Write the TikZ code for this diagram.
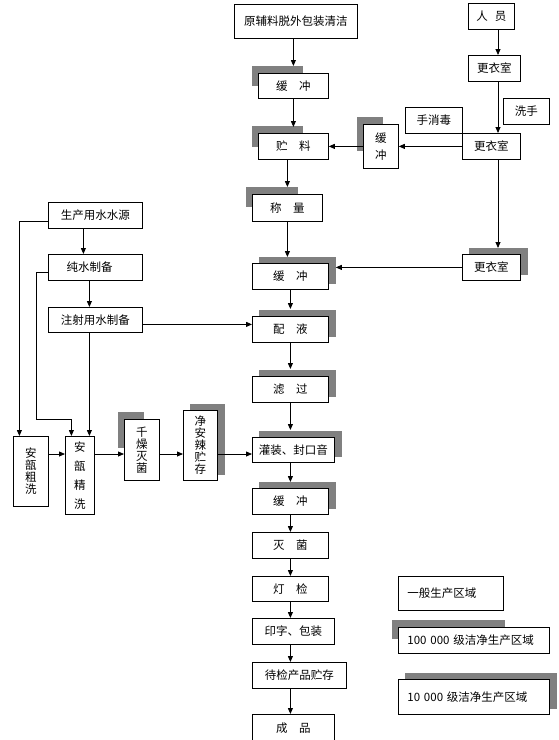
\documentclass[tikz,border=0pt]{standalone}
\usepackage{fontspec}
\newfontfamily\cjkfont{Noto Sans CJK SC}
\usepackage{tikz}
\usetikzlibrary{arrows.meta, positioning, backgrounds}
\definecolor{shadegray}{RGB}{128, 128, 128}
\newcommand{\shadeA}[3]{\fill[shadegray] ([shift={(-6,-7)}]#1.north west) rectangle ([shift={(#2,#3)}]#1.north west);}
\newcommand{\shadeB}[1]{\fill[shadegray] ([shift={(7,-6)}]#1.north west) rectangle ([shift={(7,-6)}]#1.south east);}

\begin{document}
\begin{tikzpicture}[x=1pt, y=-1pt,
  flowbox/.style={draw, fill=white, line width=0.8pt, inner sep=0pt, anchor=north west, align=center,
    font=\cjkfont\fontsize{11.5}{12}\selectfont},
  flow/.style={line width=0.8pt, -{Triangle[length=6pt, width=5pt]}},
  plain/.style={line width=0.8pt}]
  \clip (0,0) rectangle (559,740);

  % main column
  \node[flowbox, minimum width=123pt, minimum height=34pt] (yuanfu) at (234,4) {原辅料脱外包装清洁};
  \node[flowbox, minimum width=70pt, minimum height=25pt] (huanchong1) at (258,73) {缓\hspace{1em}冲};
  \node[flowbox, minimum width=70pt, minimum height=26pt] (zhuliao) at (258,133) {贮\hspace{1em}料};
  \node[flowbox, minimum width=70pt, minimum height=27pt] (chengliang) at (252,194) {称\hspace{1em}量};
  \node[flowbox, minimum width=76pt, minimum height=26pt] (huanchong2) at (252,263) {缓\hspace{1em}冲};
  \node[flowbox, minimum width=76pt, minimum height=26pt] (peiye) at (252,316) {配\hspace{1em}液};
  \node[flowbox, minimum width=76pt, minimum height=26pt] (lvguo) at (252,376) {滤\hspace{1em}过};
  \node[flowbox, minimum width=82pt, minimum height=25pt] (guanzhuang) at (252,437) {灌装、封口音};
  \node[flowbox, minimum width=76pt, minimum height=26pt] (huanchong3) at (252,488) {缓\hspace{1em}冲};
  \node[flowbox, minimum width=76pt, minimum height=26pt] (miejun) at (252,532) {灭\hspace{1em}菌};
  \node[flowbox, minimum width=76pt, minimum height=25pt] (dengjian) at (252,576) {灯\hspace{1em}检};
  \node[flowbox, minimum width=82pt, minimum height=26pt] (yinzi) at (252,618) {印字、包装};
  \node[flowbox, minimum width=94pt, minimum height=26pt] (daijian) at (252,662) {待检产品贮存};
  \node[flowbox, minimum width=82pt, minimum height=28pt] (chengpin) at (252,714) {成\hspace{1em}品};

  % personnel
  \node[flowbox, minimum width=46pt, minimum height=26pt] (renyuan) at (468,3) {人\hspace{0.6em}员};
  \node[flowbox, minimum width=52pt, minimum height=26pt] (gengyi1) at (468,55) {更衣室};
  \node[flowbox, minimum width=46pt, minimum height=26pt] (xishou) at (503,98) {洗手};
  \node[flowbox, minimum width=57pt, minimum height=26pt] (xiaodu) at (405,107) {手消毒};
  \node[flowbox, minimum width=58pt, minimum height=26pt] (gengyi2) at (462,133) {更衣室};
  \node[flowbox, minimum width=35pt, minimum height=44pt] (huanchongv) at (363,124) {缓\\[5pt]冲};
  \node[flowbox, minimum width=58pt, minimum height=26pt] (gengyi3) at (462,254) {更衣室};

  % water and ampoules
  \node[flowbox, minimum width=94pt, minimum height=26pt] (shuiyuan) at (48,202) {生产用水水源};
  \node[flowbox, minimum width=94pt, minimum height=26pt] (chunshui) at (48,254) {纯水制备\hspace{1em}};
  \node[flowbox, minimum width=94pt, minimum height=25pt] (zhushe) at (48,307) {注射用水制备};
  \node[flowbox, minimum width=35pt, minimum height=70pt] (cuxi) at (13,436) {安\\瓿\\粗\\洗};
  \node[flowbox, minimum width=29pt, minimum height=78pt] (jingxi) at (65,436) {安\\[7pt]瓿\\[7pt]精\\[7pt]洗};
  \node[flowbox, minimum width=35pt, minimum height=61pt] (ganzao) at (124,419) {千\\燥\\灭\\菌};
  \node[flowbox, minimum width=34pt, minimum height=70pt] (jingan) at (183,410) {净\\安\\辣\\贮\\存};

  % legend
  \node[flowbox, minimum height=34pt, text width=87pt, inner xsep=9pt, align=left] (leg1) at (398,576) {一般生产区域};
  \node[flowbox, minimum height=26pt, text width=133pt, inner xsep=9pt, align=left] (leg2) at (398,627) {100 000 级洁净生产区域};
  \node[flowbox, minimum height=35pt, text width=133pt, inner xsep=9pt, align=left] (leg3) at (398,679) {10 000 级洁净生产区域};

  \begin{scope}[on background layer]
    \shadeA{huanchong1}{45}{13}
    \shadeA{zhuliao}{45}{14}
    \shadeA{chengliang}{46}{13}
    \shadeA{huanchongv}{20}{27}
    \shadeA{ganzao}{20}{29}
    \shadeA{leg2}{107}{12}
    \shadeB{huanchong2}
    \shadeB{peiye}
    \shadeB{lvguo}
    \shadeB{guanzhuang}
    \shadeB{huanchong3}
    \shadeB{gengyi3}
    \shadeB{jingan}
    \shadeB{leg3}
  \end{scope}

  \coordinate (rightcol) at (498,0);
  \coordinate (midrow) at (0,454);
  \coordinate (bend) at (36,419);

  % main column
  \draw[flow, shorten >=7pt] (yuanfu.south -| huanchong1.north) -- (huanchong1.north);
  \draw[flow, shorten >=6pt] (huanchong1.south) -- (zhuliao.north);
  \draw[flow, shorten >=7pt] (zhuliao.south -| chengliang.north) -- (chengliang.north);
  \draw[flow, shorten >=6pt] (chengliang.south) -- (chengliang.south |- huanchong2.north);
  \draw[flow, shorten >=7pt] (huanchong2.south) -- (peiye.north);
  \draw[flow, shorten >=7pt] (peiye.south) -- (lvguo.north);
  \draw[flow, shorten >=7pt] (lvguo.south) -- (lvguo.south |- guanzhuang.north);
  \draw[flow, shorten >=6pt] (huanchong3.north |- guanzhuang.south) -- (huanchong3.north);
  \draw[flow] (huanchong3.south) -- (miejun.north);
  \draw[flow] (miejun.south) -- (dengjian.north);
  \draw[flow] (dengjian.south) -- (dengjian.south |- yinzi.north);
  \draw[flow] (yinzi.south -| miejun.south) -- (daijian.north -| miejun.south);
  \draw[flow] (daijian.south -| miejun.south) -- (chengpin.north -| miejun.south);

  % personnel
  \draw[flow] (renyuan.south -| rightcol) -- (gengyi1.north -| rightcol);
  \draw[flow] (gengyi1.south -| rightcol) -- (gengyi2.north -| rightcol);
  \draw[flow, shorten >=6pt] (gengyi2.south -| rightcol) -- (gengyi3.north -| rightcol);
  \draw[flow] (gengyi2.west) -- (huanchongv.east |- gengyi2.west);
  \draw[flow] (huanchongv.west |- gengyi2.west) -- (zhuliao.east |- gengyi2.west);
  \draw[flow, shorten >=7pt] (gengyi3.west) -- (huanchong2.east |- gengyi3.west);

  % water
  \draw[flow] ([xshift=-12pt]shuiyuan.south) -- ([xshift=-12pt]chunshui.north);
  \draw[flow] ([xshift=-6pt]chunshui.south) -- ([xshift=-6pt]zhushe.north);
  \draw[flow] ([xshift=-6pt]zhushe.south) -- ([xshift=-6pt]zhushe.south |- jingxi.north);
  \draw[flow] ([yshift=-6pt]shuiyuan.west) -| ([xshift=-11.5pt]cuxi.north);
  \draw[flow] ([yshift=-5pt]chunshui.west) -| (bend) -| ([xshift=-8.5pt]jingxi.north);
  \draw[flow] ([yshift=-4.5pt]zhushe.east) -- ([yshift=-4.5pt]zhushe.east -| peiye.west);

  % ampoule row
  \draw[flow] (cuxi.east |- midrow) -- (jingxi.west |- midrow);
  \draw[flow] (jingxi.east |- midrow) -- (ganzao.west |- midrow);
  \draw[flow] (ganzao.east |- midrow) -- (jingan.west |- midrow);
  \draw[flow] (jingan.east |- midrow) -- (guanzhuang.west |- midrow);
\end{tikzpicture}
\end{document}
